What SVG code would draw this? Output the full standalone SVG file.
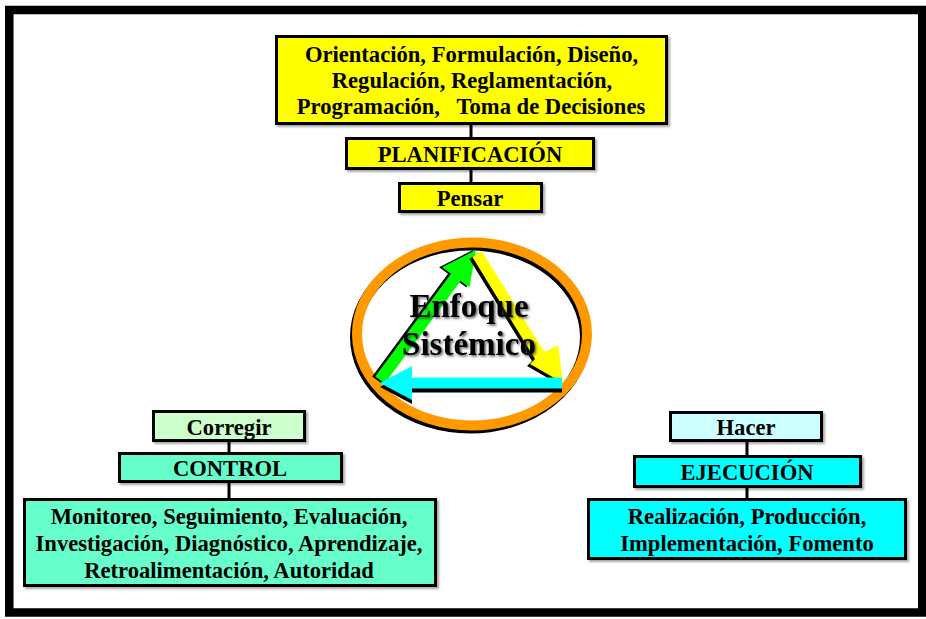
<svg xmlns="http://www.w3.org/2000/svg" width="926" height="619" viewBox="0 0 926 619">
<defs>
<filter id="sh" x="-10%" y="-10%" width="130%" height="140%"><feDropShadow dx="2" dy="2" stdDeviation="1" flood-color="#000" flood-opacity="0.35"/></filter>
<filter id="tsh" x="-10%" y="-20%" width="130%" height="150%"><feDropShadow dx="1.5" dy="1.5" stdDeviation="1" flood-color="#333" flood-opacity="0.8"/></filter>
</defs>
<style>
.box{stroke:#000;stroke-width:3;filter:url(#sh)}
.t{font-family:"Liberation Serif","Times New Roman",serif;font-weight:bold;font-size:22.6px;fill:#000;text-anchor:middle}
.big{font-family:"Liberation Serif","Times New Roman",serif;font-weight:bold;font-size:33px;fill:#000;text-anchor:middle;filter:url(#tsh)}
.ln{stroke:#000;stroke-width:3;fill:none}
</style>
<rect x="0" y="0" width="926" height="619" fill="#fff"/>
<rect x="9.25" y="10" width="913" height="602.5" fill="#fff" stroke="#000" stroke-width="8.5"/>

<g id="connectors">
<line class="ln" x1="471" y1="124" x2="471" y2="138"/>
<line class="ln" x1="471" y1="169" x2="471" y2="183"/>
<line class="ln" x1="229" y1="441" x2="229" y2="453"/>
<line class="ln" x1="229" y1="482" x2="229" y2="499"/>
<line class="ln" x1="747" y1="441" x2="747" y2="456"/>
<line class="ln" x1="747" y1="487" x2="747" y2="499"/>
</g>

<g id="node-plan-detail">
<rect class="box" x="276.5" y="36.5" width="390" height="87" fill="#ffff00"/>
<text class="t" x="471.5" y="62">Orientación, Formulación, Diseño,</text>
<text class="t" x="472" y="88">Regulación, Reglamentación,</text>
<text class="t" x="471" y="114" style="white-space:pre">Programación,   Toma de Decisiones</text>
</g>
<g id="node-planificacion">
<rect class="box" x="346.5" y="138.5" width="247" height="30" fill="#ffff00"/>
<text class="t" x="470" y="161.5">PLANIFICACIÓN</text>
</g>
<g id="node-pensar">
<rect class="box" x="399.5" y="183.5" width="142" height="28" fill="#ffff00"/>
<text class="t" x="470" y="205.5">Pensar</text>
</g>

<g id="node-enfoque">
<ellipse cx="470" cy="337" rx="115" ry="91.5" fill="none" stroke="#000" stroke-width="10"/>
<ellipse cx="472" cy="334" rx="115" ry="91.5" fill="none" stroke="#ff9900" stroke-width="10"/>
<g id="arrow-green">
<polygon transform="translate(-3,0)" fill="#000" points="375.2,376.4 384.8,383.6 460.6,280.9 469.5,287.4 476,250 442.1,267.2 451,273.7"/>
<polygon fill="#00ff00" points="375.2,376.4 384.8,383.6 460.6,280.9 469.5,287.4 476,250 442.1,267.2 451,273.7"/>
</g>
<g id="arrow-yellow">
<polygon transform="translate(-3,2)" fill="#000" points="481.6,250.9 472.4,257.1 535,358.9 530,364.1 563,383 558.2,345.3 544.5,352.1"/>
<polygon fill="#ffff00" points="481.6,250.9 472.4,257.1 535,358.9 530,364.1 563,383 558.2,345.3 544.5,352.1"/>
</g>
<g id="arrow-cyan">
<polygon transform="translate(0,4)" fill="#000" points="562,377.5 412,377.5 412,366 380,383 412,400 412,388.5 562,388.5"/>
<polygon fill="#00ffff" points="562,377.5 412,377.5 412,366 380,383 412,400 412,388.5 562,388.5"/>
</g>
<text class="big" x="469" y="317">Enfoque</text>
<text class="big" x="469" y="355">Sistémico</text>
</g>

<g id="node-corregir">
<rect class="box" x="153.5" y="411.5" width="151" height="29" fill="#ccffcc"/>
<text class="t" x="229" y="434.5">Corregir</text>
</g>
<g id="node-control">
<rect class="box" x="119.5" y="453.5" width="222" height="28" fill="#66ffcc"/>
<text class="t" x="230" y="476">CONTROL</text>
</g>
<g id="node-control-detail">
<rect class="box" x="24.5" y="499.5" width="411" height="86" fill="#66ffcc"/>
<text class="t" x="229" y="524">Monitoreo, Seguimiento, Evaluación,</text>
<text class="t" x="229" y="551">Investigación, Diagnóstico, Aprendizaje,</text>
<text class="t" x="229" y="578">Retroalimentación, Autoridad</text>
</g>

<g id="node-hacer">
<rect class="box" x="670.5" y="412.5" width="151" height="28" fill="#ccffff"/>
<text class="t" x="746" y="434.5">Hacer</text>
</g>
<g id="node-ejecucion">
<rect class="box" x="634.5" y="456.5" width="226" height="30" fill="#00ffff"/>
<text class="t" x="747" y="479.5">EJECUCIÓN</text>
</g>
<g id="node-ejecucion-detail">
<rect class="box" x="588.5" y="499.5" width="317" height="59" fill="#00ffff"/>
<text class="t" x="747" y="524">Realización, Producción,</text>
<text class="t" x="747" y="551">Implementación, Fomento</text>
</g>
</svg>
